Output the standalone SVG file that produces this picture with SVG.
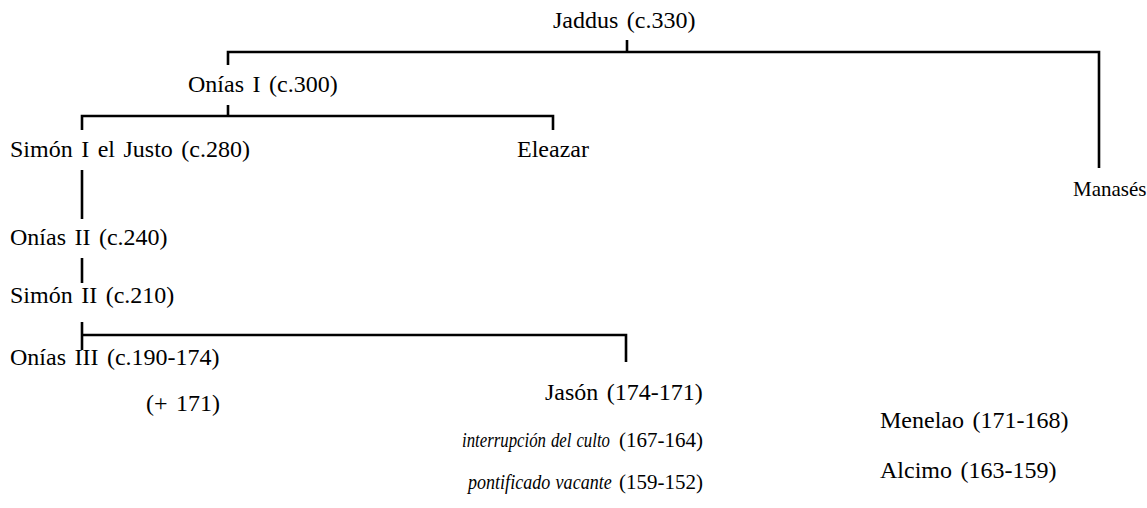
<svg xmlns="http://www.w3.org/2000/svg" width="1147" height="508" viewBox="0 0 1147 508" font-family="'Liberation Serif', 'Times New Roman', Times, 'DejaVu Serif', serif">
<style>
text{font-family:'Liberation Serif','Times New Roman',Times,'DejaVu Serif',serif;font-size:24px;fill:#000;word-spacing:2.5px}
.it{font-style:italic}
.sm{font-size:21px;word-spacing:1px}
.ln{fill:none;stroke:#000;stroke-width:2.6;stroke-linecap:butt;stroke-linejoin:miter}
</style>
<rect width="1147" height="508" fill="#fff"/>
<g id="connectors" class="ln">
<path d="M627 40V52"/>
<path d="M228 65V52H1099V168"/>
<path d="M228 105V116"/>
<path d="M82 130V116H553V130"/>
<path d="M82 170V219"/>
<path d="M82 258V283"/>
<path d="M82 322V350"/>
<path d="M82 335H626V362"/>
</g>
<g id="jaddus"><text x="553" y="28">Jaddus (c.330)</text></g>
<g id="onias1"><text x="188" y="92">Onías I (c.300)</text></g>
<g id="simon1"><text x="10" y="157">Simón I el Justo (c.280)</text></g>
<g id="eleazar"><text x="517" y="157">Eleazar</text></g>
<g id="manases"><text class="sm" x="1073" y="196">Manasés</text></g>
<g id="onias2"><text x="10" y="245">Onías II (c.240)</text></g>
<g id="simon2"><text x="10" y="303">Simón II (c.210)</text></g>
<g id="onias3"><text x="10" y="365">Onías III (c.190-174)</text><text x="146" y="411">(+ 171)</text></g>
<g id="jason"><text x="545" y="400">Jasón (174-171)</text></g>
<g id="interrupcion"><text class="sm it" transform="translate(462 447) scale(0.8 1)">interrupción del culto</text><text class="sm" x="703" y="447" text-anchor="end">(167-164)</text></g>
<g id="vacante"><text class="sm it" transform="translate(468 489) scale(0.86 1)">pontificado vacante</text><text class="sm" x="703" y="489" text-anchor="end">(159-152)</text></g>
<g id="menelao"><text x="880" y="428">Menelao (171-168)</text></g>
<g id="alcimo"><text x="880" y="478">Alcimo (163-159)</text></g>
</svg>
